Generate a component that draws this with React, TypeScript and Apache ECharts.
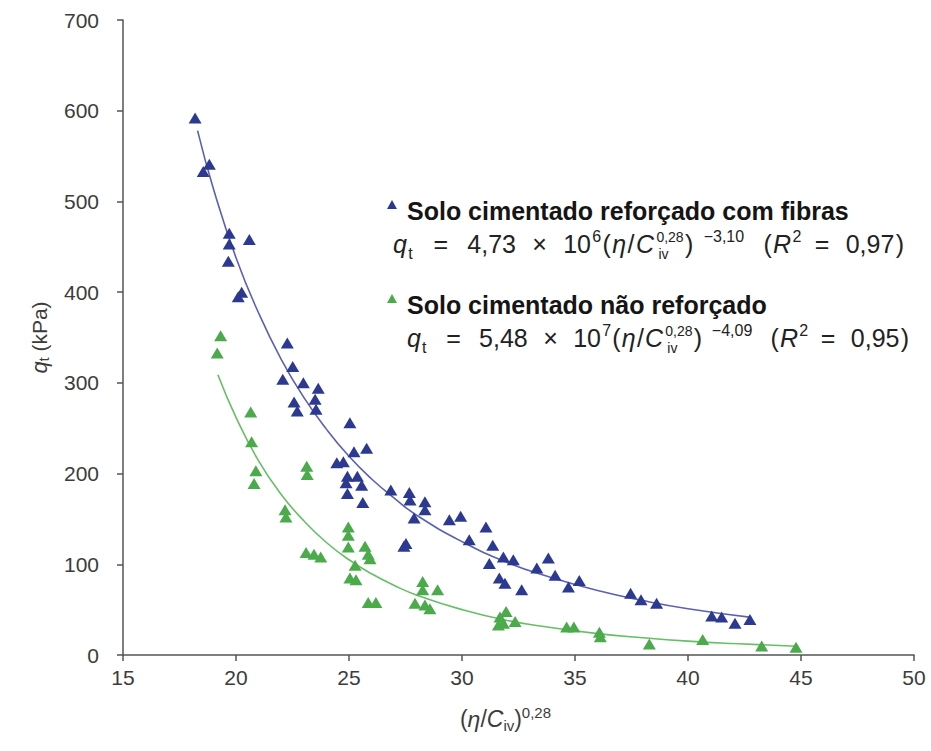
import React, { useEffect, useRef } from 'react';
import * as echarts from 'echarts';

const FONT = '"Liberation Sans", Arial, Helvetica, sans-serif';

const seriesNames = ['Solo cimentado reforçado com fibras', 'Solo cimentado não reforçado'];

// (η/Civ)^0,28 , qt (kPa) — fibre-reinforced
const fibrasPoints: [number, number][] = [
  [18.19, 592], [18.55, 533], [18.82, 541], [19.70, 465], [19.70, 453], [19.66, 434], [20.59, 458], [20.25, 400], [20.10, 395],
  [22.27, 344], [22.51, 318], [22.07, 304], [22.98, 300], [23.64, 294], [23.50, 282], [22.57, 279], [22.71, 269], [23.54, 271],
  [25.04, 256], [25.78, 228], [25.22, 224], [24.46, 212], [24.75, 213], [24.93, 197], [25.37, 197], [24.87, 190], [25.56, 187], [24.93, 178], [25.61, 168],
  [26.85, 182], [27.67, 179], [27.70, 171], [28.36, 169], [28.36, 160], [27.88, 151], [27.43, 120], [27.52, 123],
  [29.44, 149], [29.94, 153], [31.06, 141], [30.32, 127], [31.36, 121], [31.83, 108], [32.27, 105], [31.21, 101], [31.65, 85], [31.90, 79], [32.64, 72],
  [33.31, 96], [33.82, 107], [34.12, 88], [34.71, 75], [35.19, 82],
  [37.46, 68], [37.92, 61], [38.61, 57], [41.05, 43], [41.49, 42], [42.08, 35], [42.74, 39],
];

// non-reinforced
const naoReforcadoPoints: [number, number][] = [
  [19.32, 352], [19.17, 333], [20.65, 268], [20.69, 235], [20.88, 203], [20.80, 189], [23.13, 208], [23.15, 199], [22.17, 160], [22.21, 152],
  [23.10, 113], [23.45, 111], [23.75, 108], [24.97, 141], [24.97, 132], [24.97, 119], [25.71, 120], [25.85, 111], [25.93, 106], [25.27, 99],
  [25.04, 85], [25.31, 83], [25.85, 58], [26.19, 58],
  [28.26, 81], [28.26, 72], [28.92, 72], [27.92, 57], [28.36, 55], [28.58, 51],
  [31.95, 48], [31.68, 42], [31.83, 35], [32.35, 37], [31.61, 33],
  [34.63, 31], [34.95, 31], [36.08, 25], [36.12, 20], [38.29, 12], [40.65, 17], [43.26, 10], [44.78, 8.5],
];

// fitted curves
const fibrasFit: [number, number][] = [
  [18.3, 578], [19, 514], [20, 438], [21, 377], [22, 326], [23, 284], [24, 249], [25, 219], [26, 194], [27, 173],
  [28, 154], [30, 125], [32, 102], [34, 85], [36, 71], [38, 60], [40, 51], [42.8, 41.5],
];
const naoFit: [number, number][] = [
  [19.2, 309], [20, 262], [21, 214], [22, 177], [23, 148], [24, 124], [25, 105], [26, 89.5], [27, 76.7], [28, 66],
  [30, 50], [32, 38], [34, 30], [36, 23.6], [38, 19], [40, 15.3], [42, 12.6], [44.8, 9.7],
];

const equations = [
  { coef: '4,73', exp10: '6', power: '−3,10', r2: '0,97' },
  { coef: '5,48', exp10: '7', power: '−4,09', r2: '0,95' },
];

const BLUE = '#2b3990';
const BLUE_LINE = '#5a60b4';
const GREEN = '#4bab4b';
const GREEN_LINE = '#66bf66';
const TEXT = '#222222';

// legend triangle drawn in the upper part of the icon box so it sits above the text centre
const LEGEND_ICON = 'path://M5,0 L10,9 L0,9 Z M0,21';

let ctx: CanvasRenderingContext2D | null = null;
function measure(text: string, size: number, italic = false) {
  if (!ctx) ctx = document.createElement('canvas').getContext('2d');
  ctx!.font = `${italic ? 'italic ' : ''}${size}px ${FONT}`;
  return ctx!.measureText(text).width;
}

type Part = { t?: string; it?: boolean; sub?: boolean; sup?: boolean; stack?: [string, string]; gap?: number };

function equationGraphic(left: number, baseline: number, eq: typeof equations[0], right: number) {
  const M = 25;
  const S = 16;
  const ST = 14;
  const parts: Part[] = [
    { t: 'q', it: true }, { t: 't', sub: true }, { gap: 13 }, { t: '=' }, { gap: 12 }, { t: eq.coef }, { gap: 10 },
    { t: '×' }, { gap: 10 }, { t: '10' }, { t: eq.exp10, sup: true },
    { t: '(' }, { t: 'η', it: true }, { t: '/' }, { t: 'C', it: true }, { stack: ['0,28', 'iv'] },
    { t: ')' }, { gap: 6 }, { t: eq.power, sup: true }, { gap: 12 }, { t: '(' }, { t: 'R', it: true }, { t: '2', sup: true },
    { gap: 8 }, { t: '=' }, { gap: 10 }, { t: eq.r2 }, { t: ')' },
  ];
  const supShift = 11;
  const subShift = 6;
  let natural = 0;
  let gapTotal = 0;
  let tokens = 0;
  for (const p of parts) {
    if (p.gap !== undefined) { natural += p.gap; gapTotal += p.gap; }
    else if (p.stack) { natural += Math.max(measure(p.stack[0], ST), measure(p.stack[1], ST)) + 1; tokens++; }
    else { natural += measure(p.t!, p.sub || p.sup ? S : M, !!p.it); tokens++; }
  }
  const slack = Math.max(0, right - left - natural);
  const gapScale = 1 + (slack * 0.6) / gapTotal;
  const tracking = (slack * 0.4) / (tokens - 1);

  const els: any[] = [];
  const txt = (text: string, x: number, base: number, size: number, italic = false) => ({
    type: 'text',
    x,
    y: base - size * 0.35,
    style: {
      text,
      fontSize: size,
      fontFamily: FONT,
      fontStyle: italic ? 'italic' : 'normal',
      fill: TEXT,
      align: 'left',
      verticalAlign: 'middle',
    },
  });
  let x = left;
  let first = true;
  for (const p of parts) {
    if (p.gap !== undefined) {
      x += p.gap * gapScale;
      continue;
    }
    if (!first) x += tracking;
    first = false;
    if (p.stack) {
      els.push(txt(p.stack[0], x + 1, baseline - supShift, ST));
      els.push(txt(p.stack[1], x + 3, baseline + subShift, ST));
      x += Math.max(measure(p.stack[0], ST), measure(p.stack[1], ST)) + 1;
    } else {
      const size = p.sub || p.sup ? S : M;
      const b = baseline + (p.sub ? subShift : p.sup ? -supShift : 0);
      els.push(txt(p.t!, x, b, size, !!p.it));
      x += measure(p.t!, size, !!p.it);
    }
  }
  return els;
}

export default function App() {
  const ref = useRef<HTMLDivElement>(null);
  useEffect(() => {
    const chart = echarts.init(ref.current!, null, { renderer: 'svg' });
    const graphic = [
      ...equationGraphic(393, 253, equations[0], 904),
      ...equationGraphic(407, 347, equations[1], 909),
    ];
    const axisText = { color: '#3c3c3c', fontSize: 21, fontFamily: FONT };
    const legendText = { fontSize: 25, fontWeight: 'bold', color: '#151515', fontFamily: FONT, padding: [0, 0, 0, 5] };
    const option: any = {
      animation: false,
      backgroundColor: '#ffffff',
      textStyle: { fontFamily: FONT },
      grid: { left: 123, right: 17, top: 20, bottom: 96 },
      legend: [
        {
          data: [{ name: seriesNames[0], icon: LEGEND_ICON }],
          left: 387, top: 198, padding: 0, itemWidth: 10, itemHeight: 21,
          textStyle: legendText,
        },
        {
          data: [{ name: seriesNames[1], icon: LEGEND_ICON }],
          left: 387, top: 292, padding: 0, itemWidth: 10, itemHeight: 21,
          textStyle: legendText,
        },
      ],
      xAxis: {
        type: 'value', min: 15, max: 50, interval: 5,
        name: '({i|η}/{i|C}{sub|iv}){sup|0,28}',
        nameLocation: 'middle', nameGap: 50,
        nameTextStyle: {
          color: '#3c3c3c', fontSize: 23, fontFamily: FONT, padding: [0, 26, 0, 0],
          rich: {
            i: { fontStyle: 'italic', fontSize: 23, color: '#3c3c3c', fontFamily: FONT },
            sub: { fontSize: 15, color: '#3c3c3c', padding: [12, 0, 0, 0], fontFamily: FONT },
            sup: { fontSize: 15, color: '#3c3c3c', padding: [0, 0, 13, 0], fontFamily: FONT },
          },
        },
        splitLine: { show: false },
        axisLine: { lineStyle: { color: '#555', width: 1.5 } },
        axisTick: { show: true, inside: false, length: 6, lineStyle: { color: '#555', width: 1.5 } },
        axisLabel: { ...axisText, margin: 12 },
      },
      yAxis: {
        type: 'value', min: 0, max: 700, interval: 100,
        name: '{i|q}{sub|t} (kPa)',
        nameLocation: 'middle', nameGap: 72, nameRotate: 90,
        nameTextStyle: {
          color: '#3c3c3c', fontSize: 21, fontFamily: FONT,
          rich: {
            i: { fontStyle: 'italic', fontSize: 22, color: '#3c3c3c', fontFamily: FONT },
            sub: { fontSize: 14, color: '#3c3c3c', padding: [10, 0, 0, 0], fontFamily: FONT },
          },
        },
        splitLine: { show: false },
        axisLine: { show: true, lineStyle: { color: '#555', width: 1.5 } },
        axisTick: { show: true, inside: false, length: 6, lineStyle: { color: '#555', width: 1.5 } },
        axisLabel: { ...axisText, margin: 24 },
      },
      series: [
        {
          name: 'fit-fibras', type: 'line', data: fibrasFit, smooth: true, showSymbol: false,
          lineStyle: { color: BLUE_LINE, width: 1.6 }, z: 1, silent: true,
        },
        {
          name: 'fit-nao', type: 'line', data: naoFit, smooth: true, showSymbol: false,
          lineStyle: { color: GREEN_LINE, width: 1.6 }, z: 1, silent: true,
        },
        {
          name: seriesNames[0], type: 'scatter', data: fibrasPoints, symbol: 'triangle', symbolSize: [13, 11],
          itemStyle: { color: BLUE, opacity: 1 }, z: 3,
        },
        {
          name: seriesNames[1], type: 'scatter', data: naoReforcadoPoints, symbol: 'triangle', symbolSize: [13, 11],
          itemStyle: { color: GREEN, opacity: 1 }, z: 3,
        },
      ],
      graphic,
    };
    chart.setOption(option);
    return () => chart.dispose();
  }, []);
  return (
    <div
      ref={ref}
      style={{ position: 'fixed', left: 0, top: 0, width: 931, height: 751, background: '#fff' }}
    />
  );
}
